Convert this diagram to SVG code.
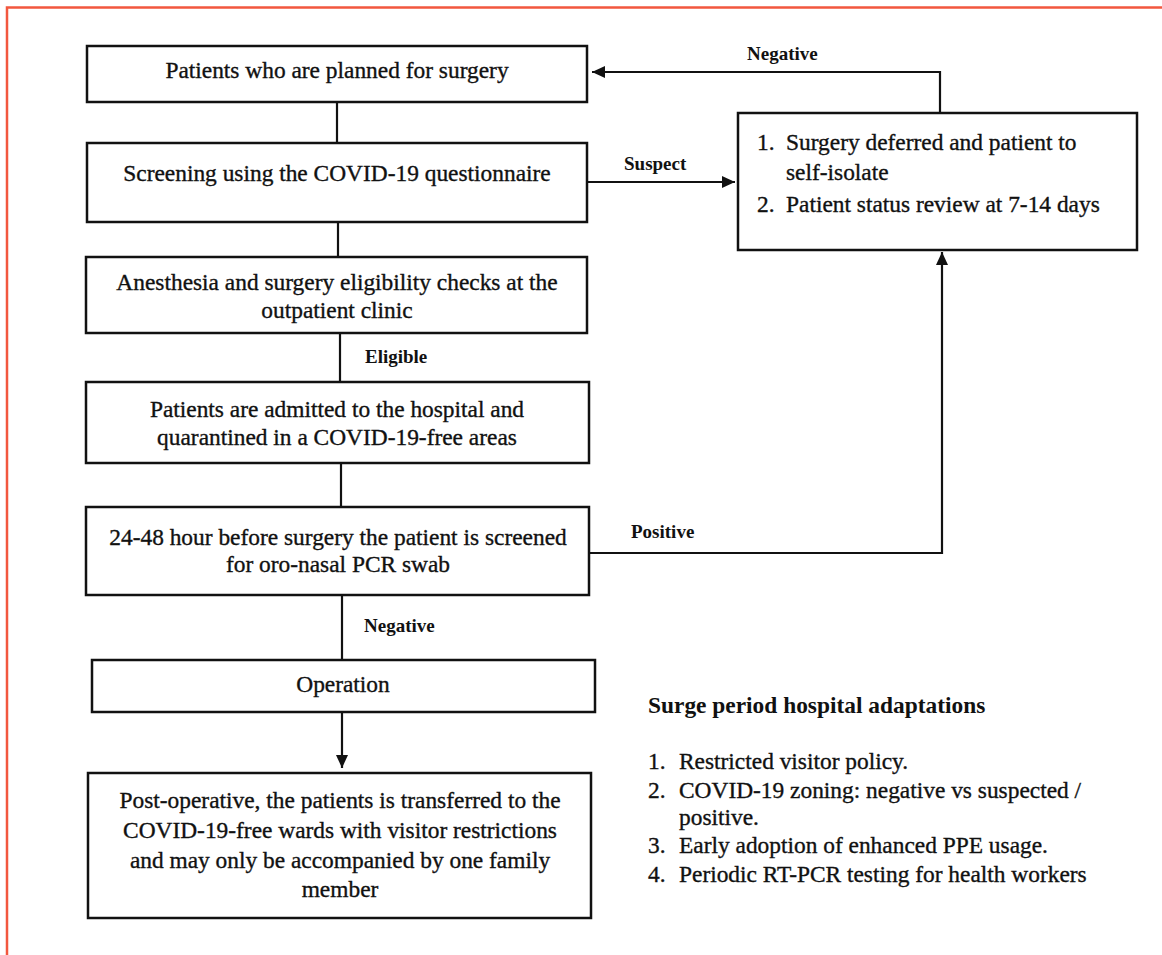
<svg xmlns="http://www.w3.org/2000/svg" width="1162" height="955" viewBox="0 0 1162 955">
<style>
text{font-family:"Liberation Serif","Times New Roman",serif;fill:#111;}
.t{font-size:23.4px;stroke:#111;stroke-width:0.35;}
.c{text-anchor:middle;}
.lbl{font-size:19px;font-weight:bold;}
.hd{font-size:23.4px;font-weight:bold;}
.box{fill:#fff;stroke:#111;stroke-width:2.5;}
.ln{fill:none;stroke:#111;stroke-width:2.2;}
</style>
<defs>
<marker id="arr" markerUnits="userSpaceOnUse" markerWidth="14" markerHeight="12" refX="13" refY="6" orient="auto">
<path d="M0,0 L13,6 L0,12 z" fill="#111"/>
</marker>
</defs>
<rect width="1162" height="955" fill="#fff"/>
<path d="M7,955 L7,7.5 L1162,7.5" fill="none" stroke="#F2573E" stroke-width="2.5"/>

<g id="connectors">
<line class="ln" x1="337" y1="102" x2="337" y2="143"/>
<line class="ln" x1="338" y1="222" x2="338" y2="257"/>
<line class="ln" x1="340" y1="333" x2="340" y2="382"/>
<line class="ln" x1="341" y1="463" x2="341" y2="507"/>
<line class="ln" x1="342" y1="595" x2="342" y2="660"/>
<line class="ln" x1="342" y1="712" x2="342" y2="768" marker-end="url(#arr)"/>
<line class="ln" x1="586" y1="182" x2="735" y2="182" marker-end="url(#arr)"/>
<polyline class="ln" points="940,113 940,72 592,72" marker-end="url(#arr)"/>
<polyline class="ln" points="589,553 942,553 942,252" marker-end="url(#arr)"/>
<text class="lbl" x="747" y="60">Negative</text>
<text class="lbl" x="624" y="170">Suspect</text>
<text class="lbl" x="365" y="363">Eligible</text>
<text class="lbl" x="631" y="538">Positive</text>
<text class="lbl" x="364" y="632">Negative</text>
</g>

<g id="n1">
<rect class="box" x="87" y="46" width="500" height="56"/>
<text class="t c" x="337" y="78">Patients who are planned for surgery</text>
</g>
<g id="n2">
<rect class="box" x="87" y="143" width="500" height="79"/>
<text class="t c" x="337" y="181">Screening using the COVID-19 questionnaire</text>
</g>
<g id="n3">
<rect class="box" x="86" y="257" width="501" height="76"/>
<text class="t c" x="337" y="290">Anesthesia and surgery eligibility checks at the</text>
<text class="t c" x="337" y="318">outpatient clinic</text>
</g>
<g id="n4">
<rect class="box" x="86" y="382" width="503" height="81"/>
<text class="t c" x="337" y="417">Patients are admitted to the hospital and</text>
<text class="t c" x="337" y="445">quarantined in a COVID-19-free areas</text>
</g>
<g id="n5">
<rect class="box" x="86" y="507" width="503" height="88"/>
<text class="t c" x="338" y="545">24-48 hour before surgery the patient is screened</text>
<text class="t c" x="338" y="572">for oro-nasal PCR swab</text>
</g>
<g id="n6">
<rect class="box" x="92" y="660" width="503" height="52"/>
<text class="t c" x="343" y="692">Operation</text>
</g>
<g id="n7">
<rect class="box" x="88" y="773" width="503" height="145"/>
<text class="t c" x="340" y="808">Post-operative, the patients is transferred to the</text>
<text class="t c" x="340" y="838">COVID-19-free wards with visitor restrictions</text>
<text class="t c" x="340" y="868">and may only be accompanied by one family</text>
<text class="t c" x="340" y="897">member</text>
</g>
<g id="n8">
<rect class="box" x="738" y="113" width="399" height="137"/>
<text class="t" x="757" y="150">1.</text>
<text class="t" x="786" y="150">Surgery deferred and patient to</text>
<text class="t" x="786" y="180">self-isolate</text>
<text class="t" x="757" y="212">2.</text>
<text class="t" x="786" y="212">Patient status review at 7-14 days</text>
</g>
<g id="notes">
<text class="hd" x="648" y="713">Surge period hospital adaptations</text>
<text class="t" x="648" y="769">1.</text>
<text class="t" x="679" y="769">Restricted visitor policy.</text>
<text class="t" x="648" y="798">2.</text>
<text class="t" x="679" y="798">COVID-19 zoning: negative vs suspected /</text>
<text class="t" x="679" y="825">positive.</text>
<text class="t" x="648" y="853">3.</text>
<text class="t" x="679" y="853">Early adoption of enhanced PPE usage.</text>
<text class="t" x="648" y="882">4.</text>
<text class="t" x="679" y="882">Periodic RT-PCR testing for health workers</text>
</g>
</svg>
